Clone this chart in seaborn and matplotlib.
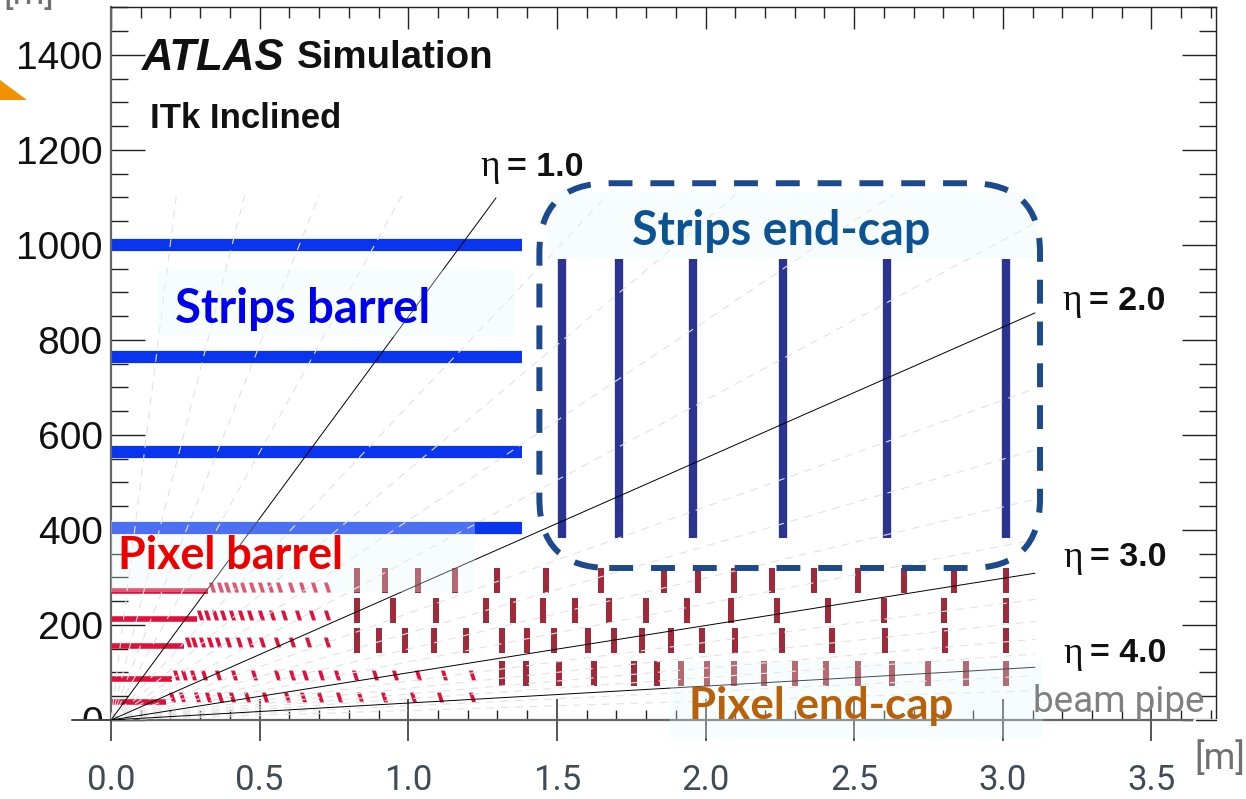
import pandas as pd
import matplotlib
matplotlib.use('Agg')
import matplotlib.pyplot as plt
import seaborn as sns
from matplotlib.patches import FancyBboxPatch, Polygon, Rectangle
from matplotlib.path import Path

# Axis ticks
x_ticks = [0.0, 0.5, 1.0, 1.5, 2.0, 2.5, 3.0, 3.5]
x_labels = ['0.0', '0.5', '1.0', '1.5', '2.0', '2.5', '3.0', '3.5']
y_ticks = [0, 200, 400, 600, 800, 1000, 1200, 1400]

# Strips barrel layers (radius in mm, end in m)
strip_barrel_r = [1000, 765, 565, 405]
strip_barrel_end = 1.382

# Strips end-cap disks
strip_disk_z = [1.517, 1.709, 1.958, 2.26, 2.61, 3.01]
strip_disk_r = [383, 970]

# Pixel barrel flat sections
pixel_flat_r = [38, 86, 156, 213, 272]
pixel_flat_end = [0.185, 0.205, 0.246, 0.289, 0.326]

# Pixel barrel inclined modules
incl_280 = [.339, .367, .389, .417, .443, .473, .503, .535, .566, .604, .643, .683, .728]
incl_221 = [.299, .324, .350, .376, .406, .436, .467, .503, .540, .582, .628, .675, .725]
incl_164 = [.258, .279, .305, .333, .361, .395, .430, .467, .509, .557, .608, .664, .725]
incl_95 = [.219, .246, .275, .313, .361, .415, .481, .557, .608, .652, .705, .759, .821,
           .888, .957, 1.034, 1.120, 1.214]
incl_48 = [.204, .238, .290, .327, .367, .408, .459, .518, .591, .645, .703, .768, .837,
           .918, 1.015, 1.107, 1.214]

# Pixel end-cap rings
ring_294 = [.827, .921, 1.033, 1.157, 1.298, 1.463, 1.648, 1.860, 1.974, 2.095, 2.223,
            2.365, 2.513, 2.668, 2.836, 3.010]
ring_232 = [.827, .948, 1.093, 1.261, 1.352, 1.453, 1.561, 1.675, 1.800, 1.937, 2.085,
            2.240, 2.412, 2.600, 2.802, 3.010]
ring_168 = [.827, .901, .989, 1.086, 1.194, 1.315, 1.399, 1.490, 1.604, 1.692, 1.786,
            1.884, 1.988, 2.099, 2.257, 2.425, 2.603, 2.805, 3.010]
ring_98 = [1.315, 1.396, 1.507, 1.625, 1.759, 1.837, 1.917, 2.005, 2.095, 2.196, 2.300,
           2.405, 2.513, 2.627, 2.748, 2.876, 3.010]

# Eta lines, end of each line
eta_end_z = [1.295, 3.108, 3.108, 3.108]
eta_end_r = [1099, 857, 309, 111]

# Dashed eta lines, end of each line
grid_end_z = [.22, .45, .70, .98, 1.67, 2.10, 2.63, 3.11, 3.11, 3.11, 3.11, 3.11, 3.11,
              3.11, 3.11, 3.11, 3.11, 3.11]
grid_end_r = [1105, 1105, 1105, 1105, 1105, 1105, 1105, 1047, 698, 569, 465, 380, 254,
              208, 170, 139, 93, 62]

blue = '#0a35ee'
navy = '#2b3490'
red = '#e0103a'
dark_red = '#a02a3a'


def px(x, y):
    return x / 1246, 1 - y / 799


def lines_frame(end_z, end_r):
    rows = []
    for i in range(len(end_z)):
        rows.append({'z': 0, 'r': 0, 'id': i})
        rows.append({'z': end_z[i], 'r': end_r[i], 'id': i})
    return pd.DataFrame(rows)


def draw_lines(df, **kw):
    sns.lineplot(data=df, x='z', y='r', units='id', estimator=None, sort=False,
                 legend=False, ax=ax, **kw)


sns.set_theme(style='white')
plt.rcParams['font.family'] = ['Liberation Sans', 'DejaVu Sans']

fig = plt.figure(figsize=(12.46, 7.99), dpi=100)
ax = fig.add_axes([111 / 1246, 79 / 799, 1105 / 1246, 713 / 799])

# strips barrel
barrel = pd.DataFrame([{'z': z, 'r': r, 'id': r} for r in strip_barrel_r for z in (0, strip_barrel_end)])
draw_lines(barrel, color=blue, lw=8.8, solid_capstyle='butt', zorder=2)

# strips end-cap
disks = pd.DataFrame([{'z': z, 'r': r, 'id': z} for z in strip_disk_z for r in strip_disk_r])
draw_lines(disks, color=navy, lw=6, solid_capstyle='butt', zorder=2)

# pixel barrel
flat = pd.DataFrame([{'z': z, 'r': r, 'id': r}
                     for r, end in zip(pixel_flat_r, pixel_flat_end) for z in (0, end)])
draw_lines(flat, color=red, lw=4, solid_capstyle='butt', zorder=2)

tilted = Path([(-0.36, 0.5), (0.04, 0.5), (0.36, -0.5), (-0.04, -0.5), (-0.36, 0.5)])
incl = pd.concat([pd.DataFrame({'z': zs, 'r': r}) for r, zs in
                  [(280, incl_280), (221, incl_221), (164, incl_164), (95, incl_95), (48, incl_48)]])
sns.scatterplot(data=incl, x='z', y='r', marker=tilted, s=50, color=red, linewidth=0,
                legend=False, ax=ax, zorder=2)

# pixel end-cap
stave = Path([(-0.115, 0.5), (0.115, 0.5), (0.115, -0.5), (-0.115, -0.5), (-0.115, 0.5)])
rings = pd.concat([pd.DataFrame({'z': zs, 'r': r}) for r, zs in
                   [(294, ring_294), (232, ring_232), (168, ring_168), (98, ring_98)]])
sns.scatterplot(data=rings, x='z', y='r', marker=stave, s=324, color=dark_red, linewidth=0,
                legend=False, ax=ax, zorder=2)

# eta lines
draw_lines(lines_frame(grid_end_z, grid_end_r), color='#e2e2e2', lw=0.8,
           linestyle=(0, (7, 6)), zorder=3)
draw_lines(lines_frame(eta_end_z, eta_end_r), color='black', lw=0.7, zorder=3)

ax.set_xlim(0, 3.717)
ax.set_ylim(0, 1501)
ax.set_xlabel('')
ax.set_ylabel('')

# pale boxes behind the labels
for x0, x1, y0, y1 in [(157, 515, 270, 337), (548, 1038, 193, 258),
                       (111, 475, 520, 592), (670, 1043, 661, 738)]:
    ax.add_patch(Rectangle((x0 / 1246, 1 - y1 / 799), (x1 - x0) / 1246, (y1 - y0) / 799,
                           transform=fig.transFigure, facecolor='#e6fbf8', alpha=0.3,
                           edgecolor='none', clip_on=False, zorder=4))

# dashed box round the strips end-cap
ax.add_patch(FancyBboxPatch((1.441, 320), 1.684, 810,
                            boxstyle='round,pad=0,rounding_size=0.235', mutation_aspect=620,
                            fill=False, edgecolor='#1c4a8c', lw=4.3,
                            linestyle=(0, (4, 3)), capstyle='butt', clip_on=False, zorder=5))

# frame and ticks
ax.set_xticks(x_ticks)
ax.set_xticklabels(x_labels, fontsize=25, color='#3f4b58', family='Roboto')
ax.set_xticks([i / 10 for i in range(0, 38)], minor=True)
ax.set_yticks(y_ticks)
ax.set_yticks(list(range(0, 1501, 50)), minor=True)
ax.tick_params(axis='x', which='major', direction='inout', length=30, width=1.4,
               color='#555555', bottom=True, pad=17)
ax.tick_params(axis='x', which='minor', direction='in', length=7.5, width=1, color='#222222',
               bottom=True)
ax.tick_params(axis='y', which='major', direction='in', length=24.5, width=1, color='#222222',
               left=True, right=True, labelsize=28, labelcolor='#111111', pad=6)
ax.tick_params(axis='y', which='minor', direction='in', length=12, width=1, color='#222222',
               left=True, right=True)

top = ax.secondary_xaxis('top')
top.set_xticks(x_ticks)
top.set_xticklabels([])
top.set_xticks([i / 10 for i in range(0, 38)], minor=True)
top.tick_params(axis='x', which='major', direction='in', length=16, width=1, color='#222222')
top.tick_params(axis='x', which='minor', direction='in', length=8, width=1, color='#222222')
top.spines['top'].set_visible(False)

for side in ['left', 'bottom']:
    ax.spines[side].set_color('#666666')
    ax.spines[side].set_linewidth(1.6)
for side in ['top', 'right']:
    ax.spines[side].set_color('#222222')
    ax.spines[side].set_linewidth(1)

# the y=0 tick runs out to the left and cuts the 0 label off
ax.add_patch(Rectangle((-0.373, -60), 0.365, 59, facecolor='white', edgecolor='none',
                       clip_on=False, zorder=5))
ax.plot([-0.131, 0], [0, 0], color='#444444', lw=1.4, clip_on=False, zorder=6)
ax.plot([3.643, 3.717], [0, 0], color='white', lw=2, clip_on=False, zorder=6)
ax.plot([3.650, 3.717], [0, 0], color='#222222', lw=1, clip_on=False, zorder=6)

# orange corner of the slide
fig.add_artist(Polygon([px(0, 80), px(27, 100), px(0, 100)], closed=True,
                       transform=fig.transFigure, facecolor='#f39200', edgecolor='none'))

# labels
x, y = px(142, 58)
fig.text(x, y, 'ATLAS', fontsize=31.5, fontweight='bold', fontstyle='italic', color='#111111',
         va='center', zorder=7)
x, y = px(297, 58)
fig.text(x, y, 'Simulation', fontsize=27.7, fontweight='bold', color='#111111', va='center', zorder=7)
x, y = px(150, 119)
fig.text(x, y, 'ITk Inclined', fontsize=25, fontweight='bold', color='#111111', va='center', zorder=7)

for eta_text, ex, ey in [('1.0', 480, 167), ('2.0', 1062, 301), ('3.0', 1063, 558), ('4.0', 1063, 654)]:
    x, y = px(ex, ey)
    fig.text(x, y, 'η', fontsize=27, family='Liberation Serif', color='#111111', va='center', zorder=7)
    x, y = px(ex + 27, ey)
    fig.text(x, y, '= ' + eta_text, fontsize=24.5, fontweight='bold', color='#111111', va='center', zorder=7)

for label, lx, ly, size, colour in [('Strips barrel', 175, 309, 34, '#0000f0'),
                                    ('Strips end-cap', 632, 231, 33.6, '#0b5394'),
                                    ('Pixel barrel', 118, 556, 32.3, '#ee0000'),
                                    ('Pixel end-cap', 689, 706, 31.7, '#b8610a')]:
    x, y = px(lx, ly)
    fig.text(x, y, label, fontsize=size, fontweight='bold', family='Lato', color=colour,
             va='center', zorder=7)

x, y = px(1033, 702)
fig.text(x, y, 'beam pipe', fontsize=26.6, family='Roboto', color='#808080', va='center', zorder=7)
x, y = px(1194, 759)
fig.text(x, y, '[m]', fontsize=26, family='Roboto', color='#707070', va='center', zorder=7)
x, y = px(54, -6)
fig.text(x, y, '[m]', fontsize=26, family='Roboto', color='#707070', va='center', ha='right', zorder=7)

fig.savefig('out.png', dpi=100)
